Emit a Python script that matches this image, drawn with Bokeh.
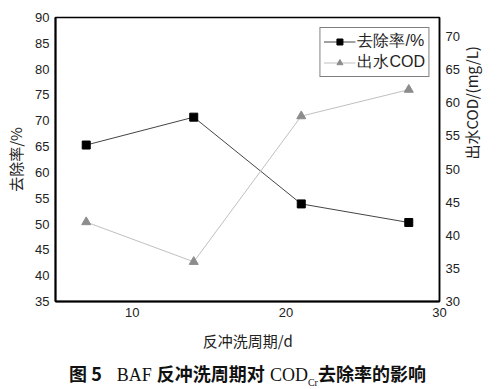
import math
from bokeh.plotting import figure
from bokeh.models import Range1d, LinearAxis, FixedTicker, Div, Legend, LegendItem
from bokeh.layouts import column
from bokeh.embed import file_html
from bokeh.resources import INLINE

# data
period = [7, 14, 21, 28]
removal = [65.3, 70.7, 53.9, 50.3]
cod_out = [42.0, 36.0, 58.0, 62.0]
x_ticks = [10, 20, 30]
left_ticks = [35, 40, 45, 50, 55, 60, 65, 70, 75, 80, 85, 90]
right_ticks = [30, 35, 40, 45, 50, 55, 60, 65, 70]
name_removal = "去除率/%"
name_cod = "出水COD"

p = figure(width=495, height=353, output_backend="svg", toolbar_location=None,
           x_range=Range1d(5, 30), y_range=Range1d(35, 90),
           min_border_left=55, min_border_right=52, min_border_top=17, min_border_bottom=51)
p.extra_y_ranges = {"cod": Range1d(30, 72.9)}

p.xgrid.visible = False
p.ygrid.visible = False
p.outline_line_color = "black"
p.outline_line_width = 1.5
p.background_fill_color = "white"
p.border_fill_color = "white"

l1 = p.line(period, removal, line_color="#444444", line_width=1)
s1 = p.scatter(period, removal, marker="square", size=8, fill_color="black", line_color="black")
l2 = p.line(period, cod_out, y_range_name="cod", line_color="#c0c0c0", line_width=1)
s2 = p.scatter(period, cod_out, y_range_name="cod", marker="triangle", size=9,
               fill_color="#8c8c8c", line_color="#8c8c8c")

ra = LinearAxis(y_range_name="cod", axis_label="出水COD/(mg/L)")
p.add_layout(ra, "right")

font = "Liberation Sans"
cjk = "Noto Sans CJK SC"
p.xaxis.ticker = FixedTicker(ticks=x_ticks)
p.yaxis[0].ticker = FixedTicker(ticks=left_ticks)
ra.ticker = FixedTicker(ticks=right_ticks)
p.xaxis.axis_label = "反冲洗周期/d"
p.yaxis[0].axis_label = "去除率/%"

for ax in [p.xaxis[0], p.yaxis[0], ra]:
    ax.major_tick_line_color = None
    ax.minor_tick_line_color = None
    ax.major_tick_out = 0
    ax.major_tick_in = 0
    ax.major_label_text_font = font
    ax.major_label_text_font_size = "13px"
    ax.major_label_text_color = "#222222"
    ax.axis_label_text_font = cjk
    ax.axis_label_text_font_size = "15px"
    ax.axis_label_text_font_style = "normal"
    ax.axis_label_text_color = "#222222"
    ax.axis_line_color = "black"
    ax.axis_line_width = 2
ra.axis_line_width = 1.5
ra.axis_label_orientation = math.pi / 2
p.xaxis.major_label_standoff = 6
p.xaxis.axis_label_standoff = 10
p.yaxis[0].major_label_standoff = 6
p.yaxis[0].axis_label_standoff = 6
ra.major_label_standoff = 6
ra.axis_label_standoff = 9

legend = Legend(items=[LegendItem(label=name_removal, renderers=[l1, s1]),
                       LegendItem(label=name_cod, renderers=[l2, s2])],
                location="top_right")
legend.margin = 10
legend.padding = 3
legend.spacing = 0
legend.label_height = 15
legend.glyph_height = 15
legend.glyph_width = 32
legend.label_standoff = 2
legend.label_text_font = font
legend.label_text_font_size = "16px"
legend.label_text_line_height = 1.0
legend.label_text_color = "#222222"
legend.border_line_color = "black"
legend.border_line_width = 1
legend.background_fill_alpha = 1
p.add_layout(legend)

cap = Div(text='<div style="width:495px;text-align:center;font-size:18px;color:#111;">'
               '<b style="font-family:\'Noto Sans CJK SC\'">图 5</b>&nbsp;&nbsp;&nbsp;'
               '<span style="font-family:\'Liberation Serif\'">BAF</span> '
               '<b style="font-family:\'Noto Sans CJK SC\'">反冲洗周期对</b> '
               '<span style="font-family:\'Liberation Serif\'">COD<sub style="font-size:10px">Cr</sub></span>'
               '<b style="font-family:\'Noto Sans CJK SC\'">去除率的影响</b></div>',
          width=495, height=30, margin=(8, 0, 0, 0))

layout = column(p, cap, spacing=0)
open("out.html", "w").write(file_html(layout, INLINE))
